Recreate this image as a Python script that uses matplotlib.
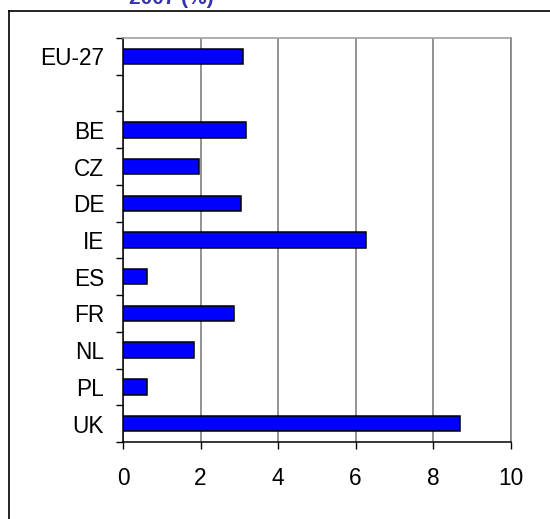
import matplotlib.pyplot as plt
from matplotlib.lines import Line2D

# Categories top to bottom; the empty slot separates EU-27 from the countries
countries = ["EU-27", "", "BE", "CZ", "DE", "IE", "ES", "FR", "NL", "PL", "UK"]
values = [3.09, None, 3.18, 1.97, 3.04, 6.26, 0.61, 2.86, 1.83, 0.62, 8.70]
xticks = [0, 2, 4, 6, 8, 10]

plt.rcParams["font.family"] = ["Liberation Sans", "DejaVu Sans"]

W, H = 550, 519
fig = plt.figure(figsize=(W / 100, H / 100), dpi=100)
ax = fig.add_axes([123 / W, 1 - 442 / H, (510.7 - 123) / W, (442 - 38) / H])

n = len(countries)
ypos = list(range(n))
bar_y = [y for y, v in zip(ypos, values) if v is not None]
bar_v = [v for v in values if v is not None]
ax.barh(bar_y, bar_v, height=0.42, color="#0000ff", edgecolor="black",
        linewidth=1.1, zorder=3)

ax.set_ylim(n - 0.5, -0.5)
ax.set_xlim(0, 10)
ax.set_xticks(xticks)
ax.set_xticklabels([str(t) for t in xticks])
ax.set_yticks(ypos)
ax.set_yticklabels(countries)
# category boundary ticks on the y axis
ax.set_yticks([y + 0.5 for y in range(-1, n)], minor=True)
ax.tick_params(axis="y", which="major", length=0, pad=13.5, labelsize=16.3)
ax.tick_params(axis="y", which="minor", length=5, width=1, direction="out")
ax.tick_params(axis="x", length=5, width=1, direction="out", pad=13,
               labelsize=16.3)

ax.grid(axis="x", color="#808080", linewidth=1.2, zorder=0)
ax.spines["top"].set_color("#a0a0a0")
ax.spines["right"].set_color("#808080")
ax.spines["top"].set_linewidth(1.2)
ax.spines["right"].set_linewidth(1.2)
ax.spines["left"].set_linewidth(1.1)
ax.spines["bottom"].set_linewidth(1.1)

# outer chart frame (left and top edges)
fig.add_artist(Line2D([8.5 / W, 8.5 / W], [0, 1 - 11 / H], color="black",
                      linewidth=1.2, transform=fig.transFigure))
fig.add_artist(Line2D([8.5 / W, 1], [1 - 11 / H, 1 - 11 / H], color="black",
                      linewidth=1.2, transform=fig.transFigure))

# chart title sits mostly above the visible area, only its lower edge shows
fig.text(171 / W, 1 - 4 / H, "2007 (%)", ha="center", va="baseline",
         fontsize=15, fontweight="bold", color="#3333aa")

fig.savefig("out.png", dpi=100)
